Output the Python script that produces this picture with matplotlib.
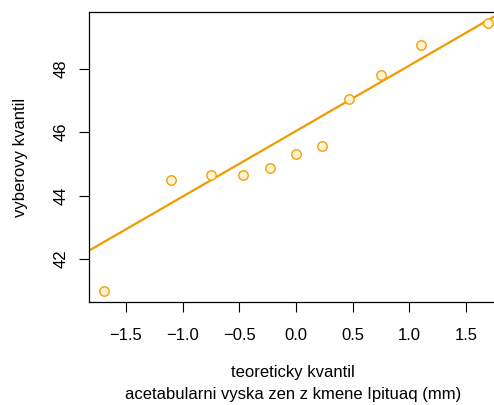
import numpy as np
import matplotlib
matplotlib.use('Agg')
import matplotlib.pyplot as plt

# theoretical quantiles (normal, n=11) and sample values
teor = [-1.69, -1.10, -0.75, -0.47, -0.23, 0.0, 0.23, 0.47, 0.75, 1.10, 1.69]
vyber = [40.98, 44.50, 44.64, 44.64, 44.87, 45.32, 45.57, 47.05, 47.81, 48.75, 49.45]
xticks = [-1.5, -1.0, -0.5, 0.0, 0.5, 1.0, 1.5]
yticks = [42, 44, 46, 48]

plt.rcParams['font.family'] = ['Liberation Sans', 'DejaVu Sans']
plt.rcParams['font.size'] = 12

fig = plt.figure(figsize=(4.94, 4.05), dpi=100)
W, H = 494, 405
ax = fig.add_axes([89 / W, 1 - 302 / H, (503 - 89) / W, (302 - 12) / H])

orange = '#F29B00'

# qq line through the quartiles (like R's qqline)
y = np.array(vyber)
q1, q3 = np.percentile(y, [25, 75])
z1, z3 = -0.6745, 0.6745
slope = (q3 - q1) / (z3 - z1)
icpt = q1 - slope * z1
xl = np.array([-3, 3])
ax.plot(xl, icpt + slope * xl, color=orange, lw=1.6, zorder=2)

ax.plot(teor, vyber, 'o', ms=6.8, mfc='#FFF3D0', mec='#F2A010', mew=1.0, zorder=3)

ax.set_xlim(-1.825, 1.825)
ax.set_ylim(40.64, 49.79)
ax.set_xticks(xticks)
ax.set_xticklabels(['\u22121.5', '\u22121.0', '\u22120.5', '0.0', '0.5', '1.0', '1.5'])
ax.set_yticks(yticks)
ax.set_yticklabels([str(v) for v in yticks], rotation=90, va='center')
ax.tick_params(axis='x', length=7.5, width=0.8, pad=11)
ax.tick_params(axis='y', length=7.5, width=0.8, pad=7)
for s in ax.spines.values():
    s.set_linewidth(0.9)

fig.text(20 / W, 1 - 157 / H, 'vyberovy kvantil', rotation=90, ha='center', va='center')
fig.text(293 / W, 1 - 372 / H, 'teoreticky kvantil', ha='center', va='center')
fig.text(293 / W, 1 - 395 / H, 'acetabularni vyska zen z kmene Ipituaq (mm)', ha='center', va='center')

fig.savefig('out.png', dpi=100)
